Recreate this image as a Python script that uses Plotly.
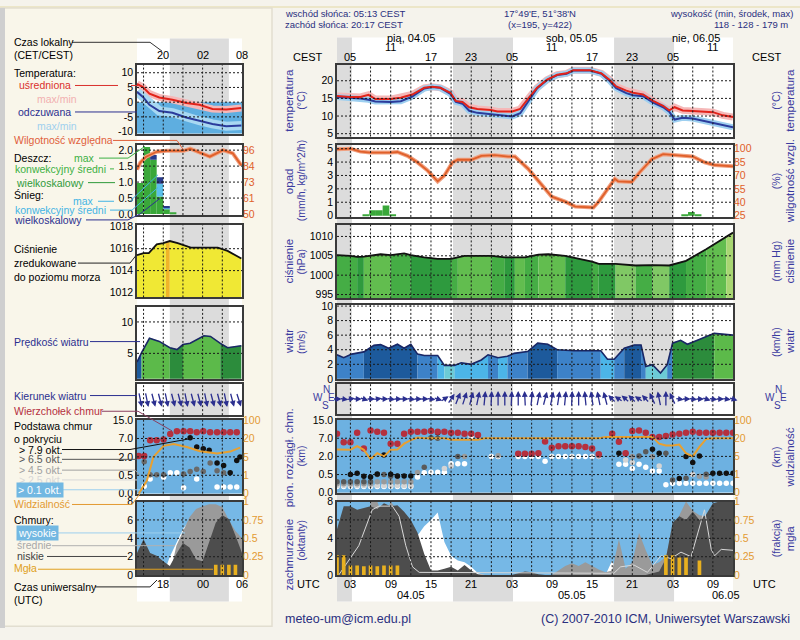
import numpy as np
import plotly.graph_objects as go

W, H = 800, 640
def PX(x): return x / W
def PY(y): return 1 - y / H

# ======================= DATA =======================
# main time axis: hours since 04.05 00 UTC
night_beg = [0.0, 18.28, 42.28]
night_end = [3.22, 27.22, 51.22]

cest_t = [3, 9, 15, 21, 27, 33, 39, 45, 51, 57]
cest_lbl = ['05', '11', '17', '23', '05', '11', '17', '23', '05', '11']
day_t = [12, 36, 54.5]
day_lbl = ['pią, 04.05', 'sob, 05.05', 'nie, 06.05']
utc_t = [3, 9, 15, 21, 27, 33, 39, 45, 51, 57]
utc_lbl = ['03', '09', '15', '21', '03', '09', '15', '21', '03', '09']
date_t = [12, 36, 59]
date_lbl = ['04.05', '05.05', '06.05']

# temperature (°C)
temp_t = [1, 3, 4.5, 5.7, 6.7, 9, 10.5, 12.2, 14, 15.2, 16.4, 17.9, 18.7, 19.7, 20.7, 21.9,
          23.9, 24.9, 27.1, 28.3, 29.6, 30.8, 32.3, 33.8, 35.2, 36.2, 38.7, 40.4, 41.6, 42.6,
          44.1, 45.1, 46.6, 48.1, 49.6, 50.5, 51.3, 52.5, 54, 57, 58.5, 60]
temp_avg = [15.7, 15.4, 15.4, 16.0, 14.8, 14.8, 15.2, 16.1, 18.0, 18.3, 18.0, 16.6, 14.3, 14.0,
            12.5, 12.0, 11.7, 11.3, 11.3, 12.0, 15.2, 18.0, 20.3, 21.7, 22.1, 23.0, 23.0, 22.1,
            20.3, 18.4, 17.2, 16.6, 16.1, 14.3, 12.9, 11.6, 12.5, 11.6, 11.4, 11.1, 10.2, 9.7]
temp_feel = [15.4, 15.2, 15.0, 14.6, 14.1, 14.0, 14.2, 15.5, 17.8, 18.2, 18.0, 16.3, 14.0, 13.5,
             11.5, 10.9, 10.5, 10.2, 9.9, 10.8, 14.5, 17.8, 20.2, 21.6, 22.0, 22.9, 22.9, 22.0,
             20.0, 17.9, 16.5, 15.9, 15.6, 13.8, 12.5, 11.2, 9.0, 9.5, 9.3, 8.0, 7.5, 6.8]

# relative humidity (%)
hum_t = [1, 3, 4.5, 6, 9, 10, 11.5, 13, 14.5, 16, 17, 18.2, 19, 21, 22.5, 24.5, 26.5, 27.5, 29.5,
         31.5, 33, 35, 36.5, 39.2, 40, 41.2, 42.4, 42.9, 44.9, 46.1, 47.9, 49.6, 51.3, 54, 55.8,
         57.2, 60]
hum = [99.3, 100, 96.7, 95.6, 95.6, 96.3, 92, 84.6, 75.5, 63.4, 70, 84.6, 87.6, 87.6, 92, 92.7,
       91.2, 91.2, 77.3, 59, 46.2, 40.7, 35.2, 34.1, 40.7, 53.5, 66.3, 63.4, 62.7, 73.6, 88.3,
       93.8, 92.7, 91.2, 84.6, 81.7, 80.2]

# precipitation (mm/h)
precip_t = [5.3, 6.3, 7.3, 8.3, 9.3, 52.8, 53.8, 54.8]
precip = [0.07, 0.4, 0.4, 0.75, 0.07, 0.07, 0.28, 0.07]

# pressure (hPa) and strip class per segment
pres_t = [1, 3, 4, 5, 7.5, 9, 11, 12, 14, 16, 18, 19, 20, 24, 26, 27.5, 29, 31, 32.5, 35, 37, 39,
          40, 42.5, 45.5, 48, 50.5, 53, 56, 59, 60]
pres = [1005.2, 1005.0, 1004.7, 1004.8, 1005.4, 1005.2, 1005.6, 1005.2, 1004.6, 1004.2, 1004.2,
        1004.6, 1005.0, 1005.0, 1004.6, 1004.6, 1004.6, 1005.3, 1005.4, 1005.0, 1004.2, 1003.5,
        1002.9, 1002.9, 1002.5, 1002.6, 1002.5, 1003.7, 1006.7, 1009.8, 1011.0]
pres_cls = ['m', 'm', 'd', 'l', 'l', 'm', 'm', 'd', 'd', 'd', 'm', 'l', 'l', 'm', 'd', 'l', 'm',
            'l', 'l', 'd', 'd', 'm', 'd', 'p', 'm', 'p', 'd', 'm', 'l', 'y']
pres_hpa_ticks = [995, 1000, 1005, 1010]
pres_mmhg_lbl = ['746', '750', '754', '758']

# wind speed (m/s) and colour class per segment
wind_t = [1, 2, 3.2, 5, 6.5, 7.5, 8.7, 10, 11, 12, 13, 14, 16, 17, 18.5, 19.5, 21, 22.5, 23.5, 25,
          26.4, 27.4, 29.4, 30.9, 32.4, 33.8, 36.3, 40.3, 41.3, 42.3, 43.8, 45.3, 46.3, 47, 48,
          49.2, 50.2, 51, 52.2, 53.2, 54.7, 57.2, 60]
wind = [3.3, 2.9, 3.4, 3.7, 4.6, 4.7, 4.2, 4.75, 4.2, 4.75, 3.4, 3.2, 3.2, 1.85, 1.85, 2.2, 2.0,
        2.6, 3.3, 2.9, 3.1, 3.5, 3.75, 4.9, 4.75, 4.0, 3.85, 3.85, 2.7, 2.7, 4.2, 4.65, 4.65, 1.7,
        1.95, 0.8, 1.95, 4.9, 5.3, 4.75, 5.3, 6.25, 6.0]
wind_cls = ['m', 'm', 'm', 'd', 'd', 'd', 'd', 'd', 'd', 'd', 'm', 'm', 'l', 't', 'l', 'l', 'l',
            'l', 'm', 'l', 'm', 'm', 'd', 'd', 'd', 'm', 'm', 'l', 'l', 'm', 'd', 'd', 'm', 't',
            't', 't', 'm', 'g', 'g', 'g', 'g', 'lg']
wind_ms_ticks = [0, 2, 4, 6, 8, 10]
wind_kmh_lbl = ['0', '7', '14', '22', '29', '36']

# wind direction: hourly, direction the arrow points to (deg)
hours = list(range(1, 61))
wdir = [90, 95, 85, 90, 100, 90, 85, 90, 95, 90, 90, 95, 90, 90, 95, 100, 70, 50, 35, 30,
        25, 20, 10, 5, 0, 0, 5, 0, 355, 10, 20, 25, 20, 15, 10, 5, 0, 350, 345, 340,
        335, 300, 290, 295, 300, 290, 300, 320, 340, 0, 320, 95, 90, 95, 90, 100, 95, 90, 95, 100]

# cloud tops (km), hourly
ctop = [9.0, 5.9, 5.9, 9.4, 4.2, 10.4, 9.9, 9.4, 5.5, 5.5, 9.0, 9.9, 9.9, 9.9, 10.2, 9.9, 9.9,
        9.4, 9.4, 9.0, 9.0, 8.4, None, None, None, None, None, 2.7, 2.7, 2.7, 2.9, 6.1, 4.4, 4.8,
        4.8, 4.8, 4.8, 4.6, 4.2, 2.6, None, 9.0, 6.0, 2.9, 10.2, 10.4, 9.4, 7.6, 7.6, 8.0, 8.6,
        9.0, 9.4, 9.9, 9.4, 9.4, 9.4, 9.4, 9.4, 9.4]
# cloud bases (km) by cover class
base_black_t = [3, 4, 5, 6, 7, 8, 9, 10, 11, 12, 16, 43, 48, 49, 52, 53, 54, 55, 57, 58, 59, 60]
base_black = [0.5, 0.6, 0.45, 0.43, 0.55, 2.4, 0.52, 0.46, 0.46, 0.46, 9.4, 2.9, 4.0, 2.9, 0.39,
              2.0, 1.5, 2.1, 0.6, 0.6, 0.6, 0.6]
base_dgrey_t = [1, 2, 3, 4, 5, 6, 7, 8, 9, 10, 14, 15, 16, 19, 44, 46, 47, 50, 51, 53, 56]
base_dgrey = [0.3, 0.3, 0.3, 0.3, 0.3, 0.3, 0.5, 0.5, 0.45, 0.45, 1.1, 7.2, 7.0, 2.0, 2.9, 2.1,
              3.3, 2.9, 0.35, 0.4, 0.52]
base_grey_t = [1, 2, 3, 4, 5, 6, 7, 8, 9, 10, 11, 12, 13, 20, 25, 40, 45, 48, 55, 56]
base_grey = [0.25, 0.25, 0.25, 0.25, 0.25, 0.25, 0.3, 0.3, 0.3, 0.3, 0.3, 0.3, 0.66, 2.0, 2.2,
             2.1, 2.0, 2.0, 0.45, 0.43]
base_lgrey_t = [1, 2, 3, 4, 5, 6, 7, 8, 9, 10, 11, 12, 17, 18, 44, 45, 49, 54]
base_lgrey = [0.2, 0.2, 0.2, 0.2, 0.2, 0.2, 0.2, 0.2, 0.2, 0.2, 0.2, 0.2, 1.0, 1.2, 1.7, 1.5, 1.2,
              0.5]
base_white_t = [1, 2, 3, 4, 5, 6, 7, 8, 9, 10, 11, 12, 13, 14, 15, 16, 17, 18, 19, 20, 21, 24, 25,
                28, 29, 30, 31, 32, 33, 34, 35, 36, 37, 38, 39, 40, 43, 44, 45, 46, 47, 48, 49,
                50, 51, 52, 53, 54, 55, 56, 57, 58, 59, 60]
base_white = [0.17, 0.17, 0.17, 0.17, 0.17, 0.17, 0.17, 0.17, 0.17, 0.17, 0.17, 0.17, 0.43, 0.65,
              0.68, 0.68, 0.68, 1.4, 1.4, 1.4, 7.8, 2.0, 2.0, 2.0, 2.0, 2.0, 2.0, 1.6, 2.0, 2.0,
              2.0, 2.0, 2.0, 2.0, 2.0, 2.0, 1.35, 1.35, 1.0, 1.35, 1.1, 0.8, 0.8, 0.22, 0.26, 0.26,
              0.26, 0.26, 0.26, 0.26, 0.26, 0.26, 0.26, 0.26]
# visibility (km), hourly
vis = [10.7, 10.7, 10.4, 13.4, 10.4, 4.4, 7.6, 5.0, 10.4, 10.7, 15.5, 18.5, 23, 20, 20, 20, 20,
       18.8, 18.8, 18.8, 18.8, 18.8, 20, 20, 20, 20, 20, 20, 20, 20, 20, 20, 20, 20, 20, 20, 20,
       20, 20, 20, 26, 26, 26, 26, 26, 26, 26, 26, 15.5, 14, 14, 14.8, 7.6, 5.0, 12.9, 19.4, 20,
       20, 20, 20]
base_lvl_km = [0, 0.5, 2.0, 7.0, 15.0]
base_lvl_lbl = ['0.0', '0.5', '2.0', '7.0', '15.0']
vis_lvl_km = [0, 1, 5, 20, 100]
vis_lvl_lbl = ['0', '1', '5', '20', '100']

# cloud cover (oktas), hourly
cov_low = [5.0, 7.5, 7.5, 7.1, 7.3, 7.5, 7.2, 7.8, 7.5, 7.6, 6.9, 6.0, 4.6, 2.3, 0.5, 0.5, 0.7,
           0.9, 0.5, 1.1, 0.5, 0.1, 0, 0, 0, 0, 0, 0.2, 0.4, 0.3, 0.1, 0, 0, 0, 0, 0, 0, 0, 0, 0,
           0, 0, 0, 0, 0, 0, 0, 0.2, 0.4, 1.8, 5.7, 6.4, 6.0, 6.9, 6.0, 6.6, 7.8, 8.0, 8.0, 8.0]
cov_mid = [0, 0, 0, 0, 0, 8.0, 8.0, 6.0, 8.0, 7.0, 0, 0, 0, 0, 0, 0, 0, 0, 0, 0, 0, 0, 0, 0, 0,
           0, 0, 0, 0, 0, 0, 0, 0, 0.5, 1.0, 1.3, 1.0, 1.4, 1.0, 0.6, 0.3, 0.5, 3.9, 0.7, 1.4,
           4.6, 2.7, 1.1, 1.4, 2.0, 5.0, 6.5, 8.0, 7.0, 6.5, 6.4, 6.0, 6.0, 6.0, 6.0]
cov_high = [0, 0, 0, 0, 0, 0, 0, 0, 0, 0, 0, 0, 4.3, 5.3, 6.0, 6.8, 3.6, 2.1, 1.6, 1.4, 0.9, 0.2,
            0, 0, 0, 0, 0, 0, 0, 0, 0, 0, 0, 0, 0, 0, 0, 0, 0, 0, 0, 1.6, 0, 0, 0, 0, 0, 0, 0, 0,
            0, 0, 0, 0, 0, 0, 0, 0, 0, 0]
cl_t = [1.25, 4.25, 6.25, 7.25, 9.25, 10.25, 11.25, 12.25, 13.25, 42.25, 43.25, 45.25, 47.25,
        49.25, 50.75, 52.25, 53.75, 55.75, 56.75, 57.25, 58.25, 60]
cl_v = [0, 3.2, 7.1, 7.5, 7.5, 6.4, 3.2, 0.9, 0.3, 0.2, 0.9, 1.1, 0.3, 2.1, 1.8, 2.5, 2.0, 7.1,
        2.8, 2.1, 2.8, 2.7]
fog_t = [1, 2, 3, 4, 5, 6, 7, 8, 9, 10, 50, 51, 52, 53, 55]
fog = [0.27, 0.27, 0.13, 0.13, 0.12, 0.13, 0.12, 0.13, 0.13, 0.13, 0.27, 0.27, 0.24, 0.24, 0.2]

# ---------- legend (mini) column, hours 14..30 ----------
m_night_beg = [19.0]
m_night_end = [28.0]
m_top_t = [18, 24, 30]
m_top_lbl = ['20', '02', '08']
m_bot_lbl = ['18', '00', '06']

mt_t = [14, 14.9, 15.9, 17.4, 19.4, 21.5, 23.5, 25.5, 27.6, 29.9]
mt_avg = [6.2, 5.1, 2.9, 1.6, 0.8, -0.3, -0.9, -2.3, -2.5, -2.0]
mt_feel = [3.5, 1.8, -0.9, -3.0, -3.6, -5.2, -6.3, -7.4, -8.2, -7.9]

mh_t = [14, 14.5, 15.4, 17, 18.5, 21.1, 22.1, 23.6, 25.1, 27.1, 28.6, 29.9]
mh = [82, 87, 91.3, 94.8, 95.5, 95.5, 97, 94, 91.3, 96, 93.7, 85]
mp_t = [14.5, 15.5, 16.5, 17.5, 18.5, 19.5]
mp_rain = [0.97, 2.1, 1.7, 0.55, 0.15, 0.05]
mp_snow_cv = [0, 0, 0, 0.4, 0.05, 0]
mp_snow_ls = [0, 0, 0.15, 0.2, 0.05, 0]

mpr_t = [14, 15, 15.8, 17, 18, 18.4, 19, 20.2, 22.2, 26.3, 27.8, 29.9]
mpr = [1015.4, 1015.6, 1015.6, 1016.4, 1016.5, 1016.6, 1016.7, 1016.5, 1016.1, 1016.1, 1015.8,
       1015.1]
mpr_cls = ['y', 'y', 'y', 'y', 'y', 'o', 'y', 'y', 'y', 'y', 'y']

mw_t = [14, 14.7, 15.9, 17.4, 19, 20.1, 21, 22.1, 24.2, 25.2, 26.7, 27.8, 29.9]
mw = [3.6, 5.1, 7.4, 6.9, 5.9, 5.6, 6.4, 6.6, 7.8, 7.7, 6.6, 5.9, 6.2]
mw_cls = ['d', 'lg', 'lg', 'lg', 'g', 'g', 'lg', 'lg', 'lg', 'lg', 'g', 'g']

md_t = [14.5, 15.5, 16.5, 17.5, 18.5, 19.5, 20.5, 21.5, 22.5, 23.5, 24.5, 25.5, 26.5, 27.5,
        28.5, 29.5]
md = [160, 160, 155, 155, 160, 155, 155, 160, 155, 155, 160, 155, 155, 160, 155, 150]

mct_t = [14.25, 15.1, 16.0, 17.0, 18.05, 19.07, 20.08, 21.1, 22.1, 23.1, 24.1, 25.15, 26.2, 27.2,
         28.2, 29.2]
mct = [2.25, 2.25, 6.5, 6.5, 6.7, 9.0, 10.2, 10.2, 10.2, 9.7, 10.2, 9.7, 9.7, 9.7, 9.7, 9.7]
mbk_t = [22.1, 23.1, 24.1, 25.0, 26.2, 27.2, 28.2, 29.2, 29.7]
mbk = [7.3, 4.7, 4.2, 3.8, 1.5, 1.3, 0.7, 1.7, 2.0]
mgr_t = [15.1, 16.0, 17.0, 18.05, 21.1, 22.1, 23.1, 24.1, 25.15, 26.2, 27.2]
mgr = [1.6, 0.54, 0.54, 0.54, 0.6, 0.8, 1.0, 0.8, 1.5, 0.86, 0.7]
mwh_t = [15.1, 16.0, 18.05, 19.07, 20.08, 21.1, 23.1, 26.2, 27.2, 28.2, 29.2]
mwh = [0.2, 0.4, 0.45, 0.7, 0.7, 0.16, 0.4, 0.18, 0.18, 0.18, 0.18]
mv_t = [14.25, 15.5, 16.5, 18.05, 19.6, 21.6, 23.6, 26.2, 28.2, 29.7]
mv = [0, 0.7, 5, 14, 15.5, 13.1, 9.6, 7.7, 9.3, 12.5]

mc_t = [14, 15, 16, 17, 18, 19, 20, 21, 22, 23, 24, 25, 26, 27, 28, 29, 30]
mc_low = [2.4, 3.9, 2.4, 2.1, 1.5, 1.0, 2.3, 3.5, 3.0, 1.7, 1.5, 3.5, 5.7, 6.5, 6.1, 4.3, 2.4]
mc_mid = [0, 0, 0, 0, 0, 0, 3.2, 4.8, 6.3, 7.2, 7.5, 7.7, 7.7, 7.4, 6.0, 4.8, 4.0]
mc_high = [0, 0, 0, 0, 0, 2.0, 3.5, 5.0, 6.0, 6.3, 6.8, 7.0, 6.5, 5.0, 3.0, 1.0, 0]
mf_t = [26, 27, 28, 29]
mf = [0.14, 0.14, 0.14, 0.14]

# ======================= STYLE =======================
FONT = 'Liberation Sans'
BORDER = '#3a3a3a'
NAVY = '#2b2f8f'
TITLE = '#3a3aa0'
HEAD = '#2a2f7f'
ORANGE_RH = '#e0602a'
ORANGE_V = '#e39a32'
GRIDC = '#1a1a1a'
PAPER = '#f5f3ec'
P_COL = {'d': '#2e9a3e', 'm': '#45ad45', 'l': '#62bd4f', 'p': '#80c865', 'y': '#a8d672',
         'o': '#f0b428'}
MP_COL = {'y': '#f0e834', 'o': '#f0b428'}
W_COL = {'d': '#1d5a9c', 'm': '#3d82c8', 'l': '#4cb5e8', 't': '#6ccbd6', 'g': '#2c8c3c',
         'lg': '#5cba4a'}

fig = go.Figure()
lay = dict(width=W, height=H, margin=dict(l=0, r=0, t=0, b=0), paper_bgcolor=PAPER,
           plot_bgcolor='rgba(0,0,0,0)', showlegend=False, barmode='overlay',
           font=dict(family=FONT, size=10, color='black'))
shapes = []
annos = []

xn = [0]
yn = [0]
def nx():
    xn[0] += 1
    k = xn[0]
    return ('xaxis' if k == 1 else 'xaxis%d' % k), ('x' if k == 1 else 'x%d' % k)
def ny():
    yn[0] += 1
    k = yn[0]
    return ('yaxis' if k == 1 else 'yaxis%d' % k), ('y' if k == 1 else 'y%d' % k)

def panel(x0, x1, top, bot, xr, yr, lv=None, lt=None, lc='black', rr=None, rv=None, rt=None,
          rc='black', fs=10.5):
    xk, xid = nx()
    yk, yid = ny()
    lay[xk] = dict(domain=[PX(x0), PX(x1)], range=xr, anchor=yid, showgrid=False,
                   zeroline=False, showticklabels=False, ticks='', showline=True, mirror=True,
                   linecolor=BORDER, linewidth=1.5, fixedrange=True)
    lay[yk] = dict(domain=[PY(bot), PY(top)], range=yr, anchor=xid, showgrid=False,
                   zeroline=False, ticks='', showline=True, mirror=True, linecolor=BORDER,
                   linewidth=1.5, fixedrange=True, showticklabels=lv is not None,
                   tickmode='array', tickvals=list(lv) if lv is not None else [],
                   ticktext=list(lt) if lt is not None else [],
                   tickfont=dict(size=fs, color=lc, family=FONT))
    yk2, yid2 = ny()
    lay[yk2] = dict(overlaying=yid, side='right', anchor=xid,
                    range=rr if rr is not None else yr, showgrid=False, zeroline=False,
                    ticks='', showline=False, fixedrange=True, showticklabels=rv is not None,
                    tickmode='array', tickvals=list(rv) if rv is not None else [],
                    ticktext=list(rt) if rt is not None else [],
                    tickfont=dict(size=fs, color=rc, family=FONT))
    return dict(x=xid, y=yid, y2=yid2)

def sc(P, x, y, right=False, **kw):
    fig.add_trace(go.Scatter(x=x, y=y, xaxis=P['x'], yaxis=P['y2'] if right else P['y'],
                             hoverinfo='skip', **kw))

def bar(P, x, y, right=False, **kw):
    fig.add_trace(go.Bar(x=x, y=y, xaxis=P['x'], yaxis=P['y2'] if right else P['y'],
                         hoverinfo='skip', **kw))

def seg_fill(P, ts, vs, cls, colors):
    i = 0
    n = len(cls)
    while i < n:
        j = i
        while j + 1 < n and cls[j + 1] == cls[i]:
            j += 1
        c = colors[cls[i]]
        sc(P, ts[i:j + 2], vs[i:j + 2], mode='lines', line=dict(width=0.5, color=c),
           fill='tozeroy', fillcolor=c)
        i = j + 1

def grid(P, xs, ys, color=GRIDC):
    ln = dict(color=color, width=1, dash='2px,2px')
    for t in xs:
        shapes.append(dict(type='line', xref=P['x'], yref=P['y'] + ' domain', x0=t, x1=t,
                           y0=0, y1=1, line=ln, layer='above'))
    for v in ys:
        shapes.append(dict(type='line', xref=P['x'] + ' domain', yref=P['y'], x0=0, x1=1,
                           y0=v, y1=v, line=ln, layer='above'))

def txt(x, y, s, size=10, color='black', xa='left', ya='middle', xref='paper', yref='paper',
        angle=0, bg=None):
    d = dict(x=x, y=y, xref=xref, yref=yref, text=s, showarrow=False, xanchor=xa, yanchor=ya,
             textangle=angle, font=dict(size=size, color=color, family=FONT), borderpad=1)
    if bg:
        d['bgcolor'] = bg
    annos.append(d)

def conn(points, color, width=1):
    path = 'M ' + ' L '.join('%.5f %.5f' % (PX(a), PY(b)) for a, b in points)
    shapes.append(dict(type='path', path=path, xref='paper', yref='paper',
                       line=dict(color=color, width=width), layer='above'))

def hpos(v):
    return list(np.interp(v, base_lvl_km, [0, 1, 2, 3, 4]))
def vpos(v):
    return list(np.interp(v, vis_lvl_km, [0, 1, 2, 3, 4]))

# ======================= PANELS =======================
MX0, MX1 = 337, 733
XR = [1, 60]
PT = panel(MX0, MX1, 60, 133, XR, [4.2, 24.5], lv=[5, 10, 15, 20], lt=['5', '10', '15', '20'],
           rv=[5, 10, 15, 20], rt=['5', '10', '15', '20'])
PR = panel(MX0, MX1, 142, 215, XR, [-0.1, 5.25], lv=[0, 1, 2, 3, 4, 5],
           lt=['0', '1', '2', '3', '4', '5'], rr=[23.5, 103.75],
           rv=[25, 40, 55, 70, 85, 100], rt=['25', '40', '55', '70', '85', '100'], rc=ORANGE_RH)
MM = 0.750062
PP = panel(MX0, MX1, 223, 298, XR, [994, 1013], lv=pres_hpa_ticks,
           lt=[str(v) for v in pres_hpa_ticks], rr=[994 * MM, 1013 * MM],
           rv=[v * MM for v in pres_hpa_ticks], rt=pres_mmhg_lbl)
PW = panel(MX0, MX1, 305, 380, XR, [0, 10.1], lv=wind_ms_ticks,
           lt=[str(v) for v in wind_ms_ticks], rr=[0, 10.1 * 3.6],
           rv=[v * 3.6 for v in wind_ms_ticks], rt=wind_kmh_lbl)
PD = panel(MX0, MX1, 385, 416, XR, [-1, 1])
PB = panel(MX0, MX1, 422, 496, XR, [0, 4], lv=hpos(base_lvl_km), lt=base_lvl_lbl,
           rv=vpos(vis_lvl_km), rt=vis_lvl_lbl, rc=ORANGE_V)
PC = panel(MX0, MX1, 505, 580, XR, [0, 8], lv=[0, 2, 4, 6, 8], lt=['0', '2', '4', '6', '8'],
           rr=[0, 1], rv=[0, 0.25, 0.5, 0.75, 1], rt=['0', '0.25', '0.5', '0.75', '1'],
           rc=ORANGE_V)

NX0, NX1 = 137, 242
NXR = [14, 30]
NT = panel(NX0, NX1, 60, 130, NXR, [-10.67, 12.67], lv=[-10, -5, 0, 5, 10],
           lt=['-10', '-5', '0', '5', '10'], rv=[-10, -5, 0, 5, 10],
           rt=['-10', '-5', '0', '5', '10'])
NR = panel(NX0, NX1, 142, 213, NXR, [-0.03, 2.15], lv=[0, 0.5, 1.0, 1.5, 2.0],
           lt=['0.0', '0.5', '1.0', '1.5', '2.0'], rr=[49.31, 99.45],
           rv=[50, 61.5, 73, 84.5, 96], rt=['50', '61', '73', '84', '96'], rc=ORANGE_RH)
NP = panel(NX0, NX1, 223, 297, NXR, [1011.55, 1018.18], lv=[1012, 1014, 1016, 1018],
           lt=['1012', '1014', '1016', '1018'], rv=[1012, 1014, 1016, 1018],
           rt=['1012', '1014', '1016', '1018'])
NW = panel(NX0, NX1, 307, 380, NXR, [0.94, 12.34], lv=[5, 10], lt=['5', '10'],
           rr=[0.94 * 3.6, 12.34 * 3.6], rv=[18, 36], rt=['18', '36'])
ND = panel(NX0, NX1, 385, 417, NXR, [-1, 1])
NB = panel(NX0, NX1, 422, 497, NXR, [0, 4], lv=hpos(base_lvl_km), lt=base_lvl_lbl,
           rv=vpos(vis_lvl_km), rt=vis_lvl_lbl, rc=ORANGE_V)
NC = panel(NX0, NX1, 505, 580, NXR, [0, 8], lv=[0, 2, 4, 6, 8], lt=['0', '2', '4', '6', '8'],
           rr=[0, 1], rv=[0, 0.25, 0.5, 0.75, 1], rt=['0', '0.25', '0.5', '0.75', '1'],
           rc=ORANGE_V)

# ======================= BACKGROUND SHAPES (order matters) =======================
shapes.append(dict(type='line', xref='paper', yref='paper', x0=0, x1=1, y0=PY(1), y1=PY(1),
                   line=dict(color='#ece6c8', width=2), layer='below'))
shapes.append(dict(type='rect', xref='paper', yref='paper', x0=PX(1), x1=PX(272), y0=PY(632),
                   y1=PY(2), fillcolor='#f9f6ea', line=dict(color='#e2ded0', width=1.5),
                   layer='below'))
shapes.append(dict(type='rect', xref='paper', yref='paper', x0=PX(0), x1=PX(5), y0=PY(634),
                   y1=PY(2), fillcolor='#cfcfcf', line=dict(width=0), layer='below'))
shapes.append(dict(type='rect', xref='paper', yref='paper', x0=PX(MX0), x1=PX(MX1),
                   y0=PY(607), y1=PY(32), fillcolor='white', line=dict(width=0), layer='below'))
shapes.append(dict(type='rect', xref='paper', yref='paper', x0=PX(NX0), x1=PX(NX1),
                   y0=PY(607), y1=PY(33), fillcolor='white', line=dict(width=0), layer='below'))
for a, b in zip(night_beg, night_end):
    shapes.append(dict(type='rect', xref=PT['x'], yref='paper', x0=a, x1=b, y0=PY(607),
                       y1=PY(32), fillcolor='#dcdcdc', line=dict(width=0), layer='below'))
for a, b in zip(m_night_beg, m_night_end):
    shapes.append(dict(type='rect', xref=NT['x'], yref='paper', x0=a, x1=b, y0=PY(607),
                       y1=PY(33), fillcolor='#dcdcdc', line=dict(width=0), layer='below'))
# freezing zone in mini temperature, cloud panel skies
shapes.append(dict(type='rect', xref=NT['x'], yref=NT['y'], x0=14, x1=30, y0=-11, y1=0,
                   fillcolor='#5eaee0', line=dict(width=0), layer='below'))
for P, top in [(PB, 4), (NB, 4)]:
    shapes.append(dict(type='rect', xref=P['x'], yref=P['y'], x0=-10, x1=100, y0=0, y1=top,
                       fillcolor='#6db1e1', line=dict(width=0), layer='below'))
for P in [PC, NC]:
    shapes.append(dict(type='rect', xref=P['x'], yref=P['y'], x0=-10, x1=100, y0=0, y1=8,
                       fillcolor='#76b8e6', line=dict(width=0), layer='below'))

# ======================= MAIN TRACES =======================
# temperature
sc(PT, temp_t, temp_avg, mode='lines', line=dict(color='#f5b8b8', width=7))
sc(PT, temp_t, temp_feel, mode='lines', line=dict(color='#9dcff0', width=6))
sc(PT, temp_t, temp_feel, mode='lines', line=dict(color='#2b3c9c', width=2))
sc(PT, temp_t, temp_avg, mode='lines', line=dict(color='#e2231a', width=2))
# precipitation + humidity
bar(PR, precip_t, precip, width=1.0, marker=dict(color='#3aa83a', line=dict(width=0)))
sc(PR, hum_t, hum, right=True, mode='lines', line=dict(color='#f0a080', width=4))
sc(PR, hum_t, hum, right=True, mode='lines', line=dict(color=ORANGE_RH, width=1.8))
# pressure
seg_fill(PP, pres_t, pres, pres_cls, P_COL)
sc(PP, pres_t, pres, mode='lines', line=dict(color='#111111', width=1.8))
# wind speed
seg_fill(PW, wind_t, wind, wind_cls, W_COL)
sc(PW, wind_t, wind, mode='lines', line=dict(color='#1a2766', width=1.6))
# wind direction arrows
def arrows(P, ts, degs, lx, ly):
    for t, d in zip(ts, degs):
        r = np.deg2rad(d)
        ux, uy = np.sin(r) * lx, np.cos(r) * ly
        annos.append(dict(x=t, y=0, xref=P['x'], yref=P['y'], text='', showarrow=True,
                          ax=-ux, ay=uy, axref='pixel', ayref='pixel', xshift=ux / 2,
                          yshift=uy / 2, arrowhead=2, arrowsize=0.9, arrowwidth=1.3,
                          arrowcolor=NAVY, standoff=0, startstandoff=0))
arrows(PD, hours, wdir, 9, 16)
# cloud bases / tops / visibility
sc(PB, hours, vpos(vis), right=True, mode='lines', line=dict(color='#e8a030', width=2))
for tt, vv, col in [(base_white_t, base_white, 'white'), (base_lgrey_t, base_lgrey, '#d4d4d4'),
                    (base_grey_t, base_grey, '#9a9a9a'), (base_dgrey_t, base_dgrey, '#5a5a5a'),
                    (base_black_t, base_black, '#111111')]:
    sc(PB, tt, hpos(vv), mode='markers', marker=dict(color=col, size=5.5, line=dict(width=0)))
ct_t = [t for t, v in zip(hours, ctop) if v is not None]
ct_v = [v for v in ctop if v is not None]
sc(PB, ct_t, hpos(ct_v), mode='markers',
   marker=dict(color='#b5303e', size=6.5, line=dict(width=0)))
# cloud cover
sc(PC, hours, cov_high, mode='lines', line=dict(width=0, color='white'), fill='tozeroy',
   fillcolor='white')
sc(PC, hours, cov_mid, mode='lines', line=dict(width=0, color='#9a9a9a'), fill='tozeroy',
   fillcolor='#9a9a9a')
sc(PC, hours, cov_low, mode='lines', line=dict(width=0, color='#4d4d4d'), fill='tozeroy',
   fillcolor='#4d4d4d')
sc(PC, cl_t, cl_v, mode='lines', line=dict(color='#d8d8d8', width=1))
bar(PC, fog_t, fog, right=True, width=0.55, marker=dict(color='#e8b020', line=dict(width=0)))

# ======================= MINI TRACES =======================
sc(NT, mt_t, mt_avg, mode='lines', line=dict(color='#f5b8b8', width=7))
sc(NT, mt_t, mt_feel, mode='lines', line=dict(color='#a8d8f2', width=9))
sc(NT, mt_t, mt_feel, mode='lines', line=dict(color='#2b3c9c', width=2))
sc(NT, mt_t, mt_avg, mode='lines', line=dict(color='#e2231a', width=2))

bar(NR, mp_t, mp_rain, width=1.0, marker=dict(color='#3aa83a', line=dict(width=0)))
bar(NR, mp_t, mp_snow_cv, base=mp_rain, width=1.0, marker=dict(color='#5bc0eb', line=dict(width=0)))
bar(NR, mp_t, mp_snow_ls, base=[a + b for a, b in zip(mp_rain, mp_snow_cv)], width=1.0,
    marker=dict(color='#283a8c', line=dict(width=0)))
sc(NR, mh_t, mh, right=True, mode='lines', line=dict(color='#f0a080', width=4))
sc(NR, mh_t, mh, right=True, mode='lines', line=dict(color=ORANGE_RH, width=1.8))

seg_fill(NP, mpr_t, mpr, mpr_cls, MP_COL)
sc(NP, mpr_t, mpr, mode='lines', line=dict(color='#111111', width=1.8))

seg_fill(NW, mw_t, mw, mw_cls, W_COL)
sc(NW, mw_t, mw, mode='lines', line=dict(color='#1a2766', width=1.6))

arrows(ND, md_t, md, 9, 16)

sc(NB, mv_t, vpos(mv), right=True, mode='lines', line=dict(color='#e8a030', width=2))
sc(NB, mwh_t, hpos(mwh), mode='markers', marker=dict(color='white', size=5.5))
sc(NB, mgr_t, hpos(mgr), mode='markers', marker=dict(color='#6a6a6a', size=5.5))
sc(NB, mbk_t, hpos(mbk), mode='markers', marker=dict(color='#111111', size=5.5))
sc(NB, mct_t, hpos(mct), mode='markers', marker=dict(color='#b5303e', size=6.5))

sc(NC, mc_t, mc_high, mode='lines', line=dict(width=0, color='white'), fill='tozeroy',
   fillcolor='white')
sc(NC, mc_t, mc_mid, mode='lines', line=dict(width=0, color='#9a9a9a'), fill='tozeroy',
   fillcolor='#9a9a9a')
sc(NC, mc_t, mc_low, mode='lines', line=dict(width=0, color='#4d4d4d'), fill='tozeroy',
   fillcolor='#4d4d4d')
bar(NC, mf_t, mf, right=True, width=0.55, marker=dict(color='#e8b020', line=dict(width=0)))

# ======================= GRIDS =======================
g3 = [3, 6, 9, 12, 15, 18, 21, 24, 27, 30, 33, 36, 39, 42, 45, 48, 51, 54, 57]
gm = [15, 18, 21, 24, 27]
grid(PT, g3, [5, 10, 15, 20])
grid(PR, g3, [1, 2, 3, 4, 5])
grid(PP, g3, [995, 1000, 1005, 1010])
grid(PW, g3, [2, 4, 6, 8, 10])
grid(PD, g3, [])
grid(PB, g3, [1, 2, 3])
grid(PC, g3, [2, 4, 6])
grid(NT, gm, [-5, 0, 5, 10])
grid(NR, gm, [0.5, 1.0, 1.5, 2.0])
grid(NP, gm, [1014, 1016])
grid(NW, gm, [5, 10])
grid(ND, gm, [])
grid(NB, gm, [1, 2, 3])
grid(NC, gm, [2, 4, 6])

# ======================= TEXT =======================
for t, s in zip(cest_t, cest_lbl):
    txt(t, PY(42 if s == '11' else 52), s, size=11, xa='center', xref=PT['x'])
for t, s in zip(day_t, day_lbl):
    txt(t, PY(33), s, size=11, xa='center', xref=PT['x'])
for t, s in zip(utc_t, utc_lbl):
    txt(t, PY(589), s, size=11, xa='center', xref=PT['x'])
for t, s in zip(date_t, date_lbl):
    txt(t, PY(600), s, size=11, xa='center', xref=PT['x'])
for t, s in zip(m_top_t, m_top_lbl):
    txt(t, PY(50), s, size=11, xa='center', xref=NT['x'])
for t, s in zip(m_top_t, m_bot_lbl):
    txt(t, PY(589), s, size=11, xa='center', xref=NT['x'])
txt(PX(308), PY(52), 'CEST', size=11, xa='center')
txt(PX(767), PY(52), 'CEST', size=11, xa='center')
txt(PX(308), PY(589), 'UTC', size=11, xa='center')
txt(PX(764), PY(589), 'UTC', size=11, xa='center')

# header / footer
txt(PX(283), PY(8), 'wschód słońca: 05:13 CEST', size=9.5, color=HEAD)
txt(PX(283), PY(19), 'zachód słońca: 20:17 CEST', size=9.5, color=HEAD)
txt(PX(540), PY(8), "17°49'E, 51°38'N", size=9.5, color=HEAD, xa='center')
txt(PX(540), PY(19), '(x=195, y=422)', size=9.5, color=HEAD, xa='center')
txt(PX(795), PY(8), 'wysokość (min, środek, max)', size=9.5, color=HEAD, xa='right')
txt(PX(790), PY(19), '118 - 128 - 179 m', size=9.5, color=HEAD, xa='right')
txt(PX(283), PY(625), 'meteo-um@icm.edu.pl', size=12.5, color=HEAD)
txt(PX(792), PY(625), '(C) 2007-2010 ICM, Uniwersytet Warszawski', size=12.5, color=HEAD,
    xa='right')

# rotated axis titles: (centre y of line 1, line 1, centre y of line 2, line 2, right 1, right 2)
titles = [(96.5, 'temperatura', 96.5, '(°C)', '(°C)', 'temperatura'),
          (178.5, 'opad', 178.5, '(mm/h, kg/m^2/h)', '(%)', 'wilgotność wzgl.'),
          (260.5, 'ciśnienie', 260.5, '(hPa)', '(mm Hg)', 'ciśnienie'),
          (342.5, 'wiatr', 342.5, '(m/s)', '(km/h)', 'wiatr'),
          (461, 'pion. rozciągł. chm.', 459, '(km)', '(km)', 'widzialność'),
          (559, 'zachmurzenie', 545, '(oktanty)', '(frakcja)', 'mgła')]
for y1, l1, y2, l2, r1, r2 in titles:
    yr = (y1 + y2) / 2 if l1 != 'zachmurzenie' else 542.5
    txt(PX(289), PY(y1), l1, size=11.5, color=TITLE, xa='center', angle=-90)
    txt(PX(301), PY(y2), l2, size=10.5, color=TITLE, xa='center', angle=-90)
    txt(PX(776), PY(yr), r1, size=10.5, color=TITLE, xa='center', angle=-90)
    txt(PX(790), PY(yr), r2, size=11.5, color=TITLE, xa='center', angle=-90)
for cx in [325, 777]:
    txt(PX(cx + 1), PY(391), 'N', size=10, color=TITLE, xa='center')
    txt(PX(cx - 7), PY(399), 'W', size=10, color=TITLE, xa='center')
    txt(PX(cx + 6), PY(399), 'E', size=10, color=TITLE, xa='center')
    txt(PX(cx), PY(407), 'S', size=10, color=TITLE, xa='center')

# left legend labels
RED = '#d9302c'
GRN = '#3cb043'
LBL = '#44b4e4'
legend = [('Czas lokalny', 12, 37, 'black', 'left'), ('(CET/CEST)', 12, 50, 'black', 'left'),
          ('Temperatura:', 12, 68, 'black', 'left'), ('uśredniona', 73, 81, RED, 'right'),
          ('max/min', 57, 95, '#f2b0b0', 'center'), ('odczuwana', 73, 108, NAVY, 'right'),
          ('max/min', 57, 122, '#9fd0ee', 'center'),
          ('Wilgotność względna', 12, 137, '#e0603a', 'left'),
          ('Deszcz:', 12, 155, 'black', 'left'), ('max', 97, 155, GRN, 'right'),
          ('konwekcyjny średni', 108, 166, GRN, 'right'),
          ('wielkoskalowy', 86, 180, '#2e9a3a', 'right'),
          ('Śnieg:', 12, 193, 'black', 'left'), ('max', 96, 199, LBL, 'right'),
          ('konwekcyjny średni', 108, 208, LBL, 'right'),
          ('wielkoskalowy', 84, 218, NAVY, 'right'),
          ('Ciśnienie', 12, 248, 'black', 'left'), ('zredukowane', 12, 262, 'black', 'left'),
          ('do poziomu morza', 12, 276, 'black', 'left'),
          ('Prędkość wiatru', 12, 342, NAVY, 'left'),
          ('Kierunek wiatru', 12, 397, NAVY, 'left'),
          ('Wierzchołek chmur', 12, 413, '#b5303e', 'left'),
          ('Podstawa chmur', 12, 428, 'black', 'left'), ('o pokryciu', 12, 441, 'black', 'left'),
          ('> 7.9 okt.', 17, 452, 'black', 'left'), ('> 6.5 okt.', 17, 462, '#555555', 'left'),
          ('> 4.5 okt.', 17, 473, '#a0a0a0', 'left'), ('> 2.5 okt.', 17, 483, '#d8d8d8', 'left'),
          ('Widzialność', 12, 508, ORANGE_V, 'left'), ('Chmury:', 12, 524, 'black', 'left'),
          ('średnie', 15, 549, '#a8a8a8', 'left'), ('niskie', 15, 561, '#404040', 'left'),
          ('Mgła', 12, 573, '#e0a020', 'left'),
          ('Czas uniwersalny', 12, 592, 'black', 'left'), ('(UTC)', 12, 605, 'black', 'left')]
for s, x, y, c, a in legend:
    txt(PX(x), PY(y), s, size=10.5, color=c, xa=a)
txt(PX(16), PY(493), '> 0.1 okt.', size=10.5, color='white', bg='#72b8e2')
txt(PX(16), PY(537), 'wysokie', size=10.5, color='white', bg='#72b8e2')

# connector lines
conn([(72, 37), (150, 37), (162, 46)], '#333333')
conn([(75, 81), (118, 81)], RED)
conn([(131, 81), (138, 81)], RED)
conn([(75, 108), (137, 108)], NAVY)
conn([(113, 137), (177, 137), (183, 146)], '#e0603a')
conn([(99, 155), (128, 155), (145, 143)], GRN)
conn([(110, 166), (114, 166)], GRN)
conn([(88, 180), (115, 180)], '#2e9a3a')
conn([(98, 199), (114, 199)], LBL)
conn([(130, 199), (158, 172)], LBL)
conn([(110, 208), (132, 208), (158, 185)], LBL)
conn([(86, 218), (128, 218), (140, 212), (160, 196)], NAVY)
conn([(78, 262), (130, 262), (137, 253)], '#222222')
conn([(90, 342), (140, 342)], NAVY)
conn([(90, 397), (137, 397)], NAVY)
conn([(102, 413), (138, 413), (172, 433)], '#8a4060')
conn([(62, 452), (130, 452), (190, 441)], '#111111')
conn([(62, 462), (137, 462)], '#555555')
conn([(62, 473), (135, 473), (140, 478)], '#a0a0a0')
conn([(62, 483), (137, 483)], '#d8d8d8')
conn([(60, 493), (140, 493)], '#9ccfee')
conn([(72, 508), (132, 508), (140, 497)], ORANGE_V)
conn([(55, 537), (185, 537)], '#9ccfee')
conn([(52, 550), (175, 550)], '#b0b0b0')
conn([(47, 561), (127, 561)], '#444444')
conn([(38, 574), (213, 574)], '#e0a020')
conn([(95, 592), (150, 592), (157, 585)], '#222222')

lay['shapes'] = shapes
lay['annotations'] = annos
fig.update_layout(**lay)
fig.write_html('out.html', include_plotlyjs=True, config={'displayModeBar': False},
               post_script="document.body.style.margin='0px';"
                           "document.body.style.background='" + PAPER + "';")
